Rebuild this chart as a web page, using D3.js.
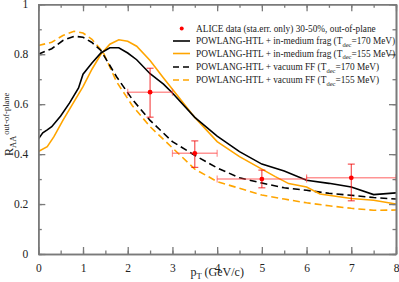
<!DOCTYPE html>
<html>
<head>
<meta charset="utf-8">
<script src="https://cdn.jsdelivr.net/npm/d3@7"></script>
<style>
  body { margin: 0; background: #fff; }
  svg, svg text { font-family: 'Liberation Serif', 'Times New Roman', Times, serif !important; }
</style>
</head>
<body>
<div id="chart"></div>
<script>
// data
var alicePt = [2.5, 3.5, 5, 7];
var aliceR = [0.648, 0.403, 0.300, 0.305];
var aliceErrLo = [0.100, 0.056, 0.035, 0.092];
var aliceErrHi = [0.096, 0.050, 0.036, 0.055];
var alicePtLo = [2, 3, 4, 6];
var alicePtHi = [3, 4, 6, 8];

var medium170 = [[0,0.46],[0.1,0.485],[0.2,0.497],[0.3,0.51],[0.5,0.553],[0.7,0.605],[0.9,0.665],[1.0,0.72],[1.2,0.765],[1.4,0.805],[1.6,0.826],[1.8,0.826],[2.0,0.805],[2.2,0.778],[2.5,0.722],[2.8,0.68],[3.0,0.645],[3.5,0.547],[4.0,0.472],[4.5,0.41],[5.0,0.36],[5.5,0.332],[6.0,0.295],[6.5,0.283],[7.0,0.268],[7.5,0.238],[8.0,0.245]];
var medium155 = [[0,0.41],[0.2,0.43],[0.35,0.47],[0.55,0.535],[0.75,0.595],[1.0,0.67],[1.2,0.74],[1.4,0.80],[1.6,0.84],[1.8,0.858],[2.0,0.852],[2.2,0.832],[2.5,0.775],[2.8,0.705],[3.0,0.66],[3.5,0.547],[4.0,0.45],[4.5,0.39],[5.0,0.34],[5.3,0.31],[5.6,0.282],[6.0,0.268],[6.3,0.24],[7.0,0.222],[7.5,0.215],[8.0,0.2]];
var vacuum170 = [[0,0.80],[0.3,0.822],[0.55,0.855],[0.8,0.872],[1.0,0.868],[1.2,0.847],[1.4,0.815],[1.75,0.71],[2.1,0.62],[2.5,0.535],[3.0,0.45],[3.5,0.395],[4.0,0.345],[4.5,0.305],[5.0,0.284],[5.5,0.265],[6.0,0.255],[6.5,0.243],[7.0,0.235],[7.5,0.226],[8.0,0.22]];
var vacuum155 = [[0,0.835],[0.3,0.848],[0.55,0.875],[0.8,0.892],[1.0,0.885],[1.2,0.86],[1.45,0.808],[1.75,0.69],[2.1,0.595],[2.5,0.51],[3.0,0.425],[3.5,0.34],[4.0,0.29],[4.5,0.263],[5.0,0.236],[5.5,0.22],[6.0,0.205],[6.5,0.193],[7.0,0.183],[7.5,0.175],[8.0,0.176]];

var xTicks = [0, 1, 2, 3, 4, 5, 6, 7, 8];
var yTicks = [0, 0.2, 0.4, 0.6, 0.8, 1];

var width = 399, height = 282;
var margin = {top: 4.3, right: 3, bottom: 28, left: 38.3};
var chartWidth = width - margin.left - margin.right;
var chartHeight = height - margin.top - margin.bottom;
var axisColor = "#7a7a7a";

var svg = d3.select("#chart").append("svg")
    .attr("width", width)
    .attr("height", height);

var x = d3.scaleLinear().domain([0, 8]).range([0, chartWidth]);
var y = d3.scaleLinear().domain([0, 1]).range([chartHeight, 0]);

var viz = svg.append("g")
    .attr("transform", "translate(" + margin.left + "," + margin.top + ")");

viz.append("clipPath").attr("id", "clip")
  .append("rect").attr("width", chartWidth).attr("height", chartHeight);

// curves
var line = d3.line().x(function(d) { return x(d[0]); }).y(function(d) { return y(d[1]); });
var curves = [
  {data: vacuum155, color: "#ffa500", dash: "7,4"},
  {data: vacuum170, color: "#000", dash: "7,4"},
  {data: medium155, color: "#ffa500", dash: null},
  {data: medium170, color: "#000", dash: null}
];
viz.append("g").attr("clip-path", "url(#clip)")
  .selectAll("path").data(curves).enter().append("path")
    .attr("d", function(d) { return line(d.data); })
    .attr("fill", "none")
    .attr("stroke", function(d) { return d.color; })
    .attr("stroke-width", 1.6)
    .attr("stroke-dasharray", function(d) { return d.dash; });

// ALICE points with error bars
var pts = alicePt.map(function(p, i) {
  return {pt: p, r: aliceR[i], lo: aliceR[i] - aliceErrLo[i], hi: aliceR[i] + aliceErrHi[i],
          x0: alicePtLo[i], x1: alicePtHi[i]};
});
var errH = "rgba(255,60,60,0.55)", errV = "rgba(240,0,0,0.75)";
var pg = viz.append("g").selectAll("g").data(pts).enter().append("g");
pg.append("line")
  .attr("x1", function(d) { return x(d.x0); }).attr("x2", function(d) { return x(d.x1); })
  .attr("y1", function(d) { return y(d.r); }).attr("y2", function(d) { return y(d.r); })
  .attr("stroke", errH).attr("stroke-width", 1.5);
[0, 1].forEach(function(k) {
  pg.append("line")
    .attr("x1", function(d) { return x(k ? d.x1 : d.x0); }).attr("x2", function(d) { return x(k ? d.x1 : d.x0); })
    .attr("y1", function(d) { return y(d.r) - 3.5; }).attr("y2", function(d) { return y(d.r) + 3.5; })
    .attr("stroke", errH).attr("stroke-width", 1.2);
});
pg.append("line")
  .attr("x1", function(d) { return x(d.pt); }).attr("x2", function(d) { return x(d.pt); })
  .attr("y1", function(d) { return y(d.lo); }).attr("y2", function(d) { return y(d.hi); })
  .attr("stroke", errV).attr("stroke-width", 1.1);
["lo", "hi"].forEach(function(k) {
  pg.append("line")
    .attr("x1", function(d) { return x(d.pt) - 3.5; }).attr("x2", function(d) { return x(d.pt) + 3.5; })
    .attr("y1", function(d) { return y(d[k]); }).attr("y2", function(d) { return y(d[k]); })
    .attr("stroke", errV).attr("stroke-width", 1.1);
});
pg.append("circle")
  .attr("cx", function(d) { return x(d.pt); }).attr("cy", function(d) { return y(d.r); })
  .attr("r", 2.4).attr("fill", "#f00");

// axes: inward ticks on all four sides
function styleAxis(g, labels) {
  g.attr("font-family", null);
  g.select(".domain").attr("stroke", axisColor).attr("stroke-width", 1.6);
  g.selectAll(".tick line").attr("stroke", axisColor).attr("stroke-width", 1.3);
  g.selectAll(".tick text").attr("fill", "#222").attr("font-size", "11.5px");
  if (!labels) g.selectAll(".tick text").remove();
}
function minor(domain, step) {
  var out = [];
  for (var v = domain[0]; v <= domain[1] + 1e-9; v += step) out.push(+v.toFixed(3));
  return out;
}
var xMinor = minor([0, 8], 0.5), yMinor = minor([0, 1], 0.1);

viz.append("g").attr("transform", "translate(0," + chartHeight + ")")
  .call(d3.axisBottom(x).tickValues(xMinor).tickSize(-3.5).tickFormat("").tickSizeOuter(0))
  .call(function(g) { styleAxis(g, false); });
viz.append("g").attr("transform", "translate(0," + chartHeight + ")")
  .call(d3.axisBottom(x).tickValues(xTicks).tickSize(-7).tickPadding(10).tickFormat(d3.format("d")).tickSizeOuter(0))
  .call(function(g) { styleAxis(g, true); });
viz.append("g")
  .call(d3.axisTop(x).tickValues(xMinor).tickSize(-3.5).tickFormat("").tickSizeOuter(0))
  .call(function(g) { styleAxis(g, false); });
viz.append("g")
  .call(d3.axisTop(x).tickValues(xTicks).tickSize(-7).tickFormat("").tickSizeOuter(0))
  .call(function(g) { styleAxis(g, false); });

viz.append("g")
  .call(d3.axisLeft(y).tickValues(yMinor).tickSize(-3.5).tickFormat("").tickSizeOuter(0))
  .call(function(g) { styleAxis(g, false); });
viz.append("g")
  .call(d3.axisLeft(y).tickValues(yTicks).tickSize(-7).tickPadding(10)
    .tickFormat(function(d) { return d === 0 || d === 1 ? d3.format("d")(d) : d3.format(".1f")(d); }).tickSizeOuter(0))
  .call(function(g) { styleAxis(g, true); });
viz.append("g").attr("transform", "translate(" + chartWidth + ",0)")
  .call(d3.axisRight(y).tickValues(yMinor).tickSize(-3.5).tickFormat("").tickSizeOuter(0))
  .call(function(g) { styleAxis(g, false); });
viz.append("g").attr("transform", "translate(" + chartWidth + ",0)")
  .call(d3.axisRight(y).tickValues(yTicks).tickSize(-7).tickFormat("").tickSizeOuter(0))
  .call(function(g) { styleAxis(g, false); });

// axis titles
var xt = svg.append("text")
  .attr("x", margin.left + x(4)).attr("y", 276)
  .attr("text-anchor", "middle").attr("font-size", "12px").attr("fill", "#222");
xt.append("tspan").text("p");
xt.append("tspan").attr("font-size", "8.5px").attr("dy", 3).text("T");
xt.append("tspan").attr("dy", -3).text(" (GeV/c)");

var yt = svg.append("text")
  .attr("transform", "translate(13,156) rotate(-90)")
  .attr("text-anchor", "start").attr("font-size", "12px").attr("fill", "#222");
yt.append("tspan").text("R");
yt.append("tspan").attr("font-size", "8.5px").attr("dy", 3).text("AA");
yt.append("tspan").attr("font-size", "8.5px").attr("dx", 1).attr("dy", -7.5).text("out-of-plane");

// legend
var legendItems = [
  {type: "dot", label: ["ALICE data (sta.err. only) 30-50%, out-of-plane"]},
  {type: "line", color: "#000", dash: null, label: ["POWLANG-HTL + in-medium frag (T", "dec", "=170 MeV)"]},
  {type: "line", color: "#ffa500", dash: null, label: ["POWLANG-HTL + in-medium frag (T", "dec", "=155 MeV)"]},
  {type: "line", color: "#000", dash: "6,4", label: ["POWLANG-HTL + vacuum FF (T", "dec", "=170 MeV)"]},
  {type: "line", color: "#ffa500", dash: "6,4", label: ["POWLANG-HTL + vacuum FF (T", "dec", "=155 MeV)"]}
];
var legendY = [28.5, 41, 53.5, 67, 80];
var lg = svg.append("g").selectAll("g").data(legendItems).enter().append("g")
  .attr("transform", function(d, i) { return "translate(0," + legendY[i] + ")"; });
lg.filter(function(d) { return d.type === "dot"; }).append("circle")
  .attr("cx", 181.7).attr("cy", 0).attr("r", 2).attr("fill", "#f00");
lg.filter(function(d) { return d.type === "line"; }).append("line")
  .attr("x1", 173).attr("x2", 190).attr("y1", 0).attr("y2", 0)
  .attr("stroke", function(d) { return d.color; }).attr("stroke-width", 1.6)
  .attr("stroke-dasharray", function(d) { return d.dash; });
var lt = lg.append("text").attr("x", 196).attr("y", 3.3)
  .attr("font-size", "9.3px").attr("fill", "#222");
lt.each(function(d) {
  var t = d3.select(this);
  t.append("tspan").text(d.label[0]);
  if (d.label.length > 1) {
    t.append("tspan").attr("font-size", "6.5px").attr("dy", 2.3).text(d.label[1]);
    t.append("tspan").attr("dy", -2.3).text(d.label[2]);
  }
});
</script>
</body>
</html>
